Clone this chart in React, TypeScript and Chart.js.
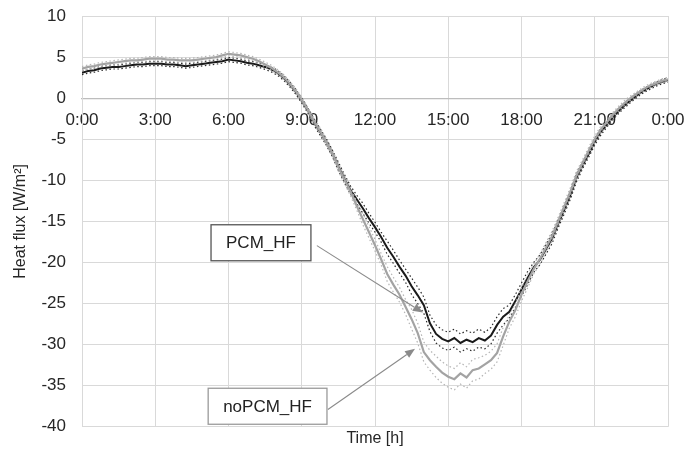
import React, { useEffect, useRef } from 'react';
import { Chart, registerables } from 'chart.js';

Chart.register(...registerables);

// sampling step of the series, in hours
const STEP_HOURS = 0.25;

// Heat flux with PCM [W/m²], every 15 min from 0:00 to 24:00
const pcmHF = [
  3.1, 3.3, 3.4, 3.6,
  3.7, 3.8, 3.8, 3.9,
  4.0, 4.1, 4.1, 4.2,
  4.2, 4.2, 4.1, 4.1,
  4.0, 3.9, 4.0, 4.1,
  4.2, 4.3, 4.4, 4.5,
  4.7, 4.6, 4.5, 4.3,
  4.2, 4.0, 3.8, 3.5,
  3.1, 2.5, 1.7, 0.8,
  -0.3, -1.5, -2.9, -4.1,
  -5.3, -6.7, -8.3, -9.8,
  -11.2, -12.3, -13.4, -14.6,
  -15.7, -16.9, -18.2, -19.3,
  -20.5, -21.6, -22.9, -24.0,
  -25.2, -27.4, -28.7, -29.3,
  -29.6, -29.2, -29.8, -29.4,
  -29.7, -29.2, -29.5, -28.9,
  -27.6, -26.6, -26.0, -24.7,
  -23.3, -21.9, -20.6, -19.7,
  -18.4, -17.1, -15.3, -13.6,
  -11.8, -9.7, -8.2, -6.8,
  -5.3, -4.1, -3.2, -2.3,
  -1.5, -0.8, -0.2, 0.4,
  0.9, 1.3, 1.7, 2.0,
  2.2,
];

// Heat flux without PCM [W/m²], every 15 min from 0:00 to 24:00
const noPcmHF = [
  3.6, 3.8, 3.9, 4.1,
  4.2, 4.3, 4.4, 4.5,
  4.6, 4.6, 4.7, 4.8,
  4.8, 4.8, 4.7, 4.7,
  4.6, 4.6, 4.6, 4.7,
  4.8, 4.9, 5.0, 5.2,
  5.4, 5.3, 5.2, 5.0,
  4.8, 4.5, 4.1, 3.7,
  3.2, 2.6, 1.8, 0.9,
  -0.2, -1.4, -2.8, -4.0,
  -5.3, -6.7, -8.4, -9.9,
  -11.4, -13.1, -14.7, -16.3,
  -17.9, -19.6, -21.4, -22.7,
  -23.9, -25.4, -26.9, -28.6,
  -30.9, -31.9, -32.7, -33.4,
  -33.9, -34.2, -33.5, -34.0,
  -33.1, -32.9, -32.4, -31.9,
  -31.0, -29.0, -27.2, -25.8,
  -23.9, -22.3, -20.8, -19.6,
  -18.2, -16.8, -15.0, -13.2,
  -11.4, -9.4, -7.9, -6.4,
  -5.0, -3.8, -2.9, -2.0,
  -1.2, -0.5, 0.1, 0.6,
  1.1, 1.5, 1.8, 2.1,
  2.3,
];

// half-width of the measurement uncertainty band, per hour (0..24)
const pcmUncHourly = [0.25, 0.25, 0.25, 0.25, 0.25, 0.25, 0.25, 0.25, 0.3, 0.3, 0.4, 0.5, 0.6, 0.8, 1.0, 1.1, 1.1, 1.0, 0.8, 0.6, 0.5, 0.4, 0.3, 0.25, 0.25];
const noPcmUncHourly = [0.25, 0.25, 0.25, 0.25, 0.25, 0.25, 0.25, 0.25, 0.3, 0.3, 0.4, 0.5, 0.7, 0.9, 1.2, 1.3, 1.3, 1.1, 0.8, 0.6, 0.5, 0.4, 0.3, 0.25, 0.25];

const yTickValues = [10, 5, 0, -5, -10, -15, -20, -25, -30, -35, -40];
const xTickHours = [0, 3, 6, 9, 12, 15, 18, 21, 24];

// callouts, anchored in data coordinates (hours, W/m²)
const callouts = [
  { text: 'PCM_HF', cx: 7.33, cy: -17.6, fx: 9.62, fy: -17.95, tx: 13.96, ty: -26.1, border: '#555555' },
  { text: 'noPCM_HF', cx: 7.6, cy: -37.5, fx: 10.07, fy: -37.9, tx: 13.64, ty: -30.5, border: '#9a9a9a' },
];

const FONT_FAMILY = '"Liberation Sans", Arial, Helvetica, sans-serif';

const toPoints = (arr: number[]) => arr.map((v, i) => ({ x: i * STEP_HOURS, y: v }));
const band = (arr: number[], unc: number[], sign: number) =>
  arr.map((v, i) => ({ x: i * STEP_HOURS, y: v + sign * unc[Math.round(i * STEP_HOURS)] }));

const calloutPlugin = {
  id: 'callouts',
  afterDatasetsDraw(chart: any) {
    const { ctx, scales } = chart;
    const xs = scales.x;
    const ys = scales.y;
    ctx.save();
    ctx.font = `17px ${FONT_FAMILY}`;
    for (const c of callouts) {
      const cx = xs.getPixelForValue(c.cx);
      const cy = ys.getPixelForValue(c.cy);
      const tw = ctx.measureText(c.text).width;
      const w = tw + 30;
      const h = 36;
      ctx.fillStyle = '#ffffff';
      ctx.fillRect(cx - w / 2, cy - h / 2, w, h);
      ctx.strokeStyle = c.border;
      ctx.lineWidth = 1.3;
      ctx.strokeRect(cx - w / 2, cy - h / 2, w, h);
      ctx.fillStyle = '#222222';
      ctx.textAlign = 'center';
      ctx.textBaseline = 'middle';
      ctx.fillText(c.text, cx, cy + 1);

      const fx = xs.getPixelForValue(c.fx);
      const fy = ys.getPixelForValue(c.fy);
      const tx = xs.getPixelForValue(c.tx);
      const ty = ys.getPixelForValue(c.ty);
      const ang = Math.atan2(ty - fy, tx - fx);
      const headLen = 10;
      const headHalf = 4;
      ctx.strokeStyle = '#8a8a8a';
      ctx.lineWidth = 1.1;
      ctx.beginPath();
      ctx.moveTo(fx, fy);
      ctx.lineTo(tx - headLen * Math.cos(ang), ty - headLen * Math.sin(ang));
      ctx.stroke();
      ctx.fillStyle = '#8a8a8a';
      ctx.beginPath();
      ctx.moveTo(tx, ty);
      ctx.lineTo(tx - headLen * Math.cos(ang) + headHalf * Math.sin(ang), ty - headLen * Math.sin(ang) - headHalf * Math.cos(ang));
      ctx.lineTo(tx - headLen * Math.cos(ang) - headHalf * Math.sin(ang), ty - headLen * Math.sin(ang) + headHalf * Math.cos(ang));
      ctx.closePath();
      ctx.fill();
    }
    ctx.restore();
  },
};

export default function App() {
  const canvasRef = useRef<HTMLCanvasElement | null>(null);

  useEffect(() => {
    if (!canvasRef.current) return;
    const gridColor = '#d9d9d9';
    const tickColor = '#262626';
    const chart = new Chart(canvasRef.current, {
      type: 'line',
      data: {
        datasets: [
          {
            label: 'noPCM_HF upper',
            data: band(noPcmHF, noPcmUncHourly, 1),
            borderColor: '#b4b4b4',
            borderWidth: 1.2,
            borderDash: [1.5, 2.5],
            pointRadius: 0,
            fill: false,
          },
          {
            label: 'noPCM_HF lower',
            data: band(noPcmHF, noPcmUncHourly, -1),
            borderColor: '#b4b4b4',
            borderWidth: 1.2,
            borderDash: [1.5, 2.5],
            pointRadius: 0,
            fill: false,
          },
          {
            label: 'noPCM_HF',
            data: toPoints(noPcmHF),
            borderColor: '#a3a3a3',
            borderWidth: 2.2,
            pointRadius: 0,
            fill: false,
          },
          {
            label: 'PCM_HF upper',
            data: band(pcmHF, pcmUncHourly, 1),
            borderColor: '#2a2a2a',
            borderWidth: 1.2,
            borderDash: [1.5, 2.5],
            pointRadius: 0,
            fill: false,
          },
          {
            label: 'PCM_HF lower',
            data: band(pcmHF, pcmUncHourly, -1),
            borderColor: '#2a2a2a',
            borderWidth: 1.2,
            borderDash: [1.5, 2.5],
            pointRadius: 0,
            fill: false,
          },
          {
            label: 'PCM_HF',
            data: toPoints(pcmHF),
            borderColor: '#1a1a1a',
            borderWidth: 2,
            pointRadius: 0,
            fill: false,
          },
        ],
      },
      options: {
        responsive: false,
        animation: false,
        devicePixelRatio: 1,
        layout: { padding: { top: 16, right: 17, bottom: 0, left: 8 } },
        plugins: {
          legend: { display: false },
          tooltip: { enabled: false },
        },
        scales: {
          x: {
            type: 'linear',
            position: { y: 0 } as any,
            min: 0,
            max: 24,
            afterBuildTicks: (scale: any) => {
              scale.ticks = xTickHours.map((v) => ({ value: v }));
            },
            ticks: {
              color: tickColor,
              font: { size: 17, family: FONT_FAMILY },
              padding: 0,
              maxRotation: 0,
              autoSkip: false,
              callback: (v: any) => `${Number(v) % 24}:00`,
            },
            grid: { color: gridColor, lineWidth: 1, drawTicks: true, tickLength: 12, tickColor: 'rgba(0,0,0,0)' },
            border: { display: true, color: '#bdbdbd', width: 1.3 },
          },
          xTitle: {
            type: 'linear',
            position: 'bottom',
            min: 0,
            max: 24,
            ticks: { display: false },
            grid: { display: false, drawTicks: false },
            border: { display: false },
            title: {
              display: true,
              text: 'Time [h]',
              color: tickColor,
              font: { size: 16, family: FONT_FAMILY },
              padding: { top: 2, bottom: 2 },
            },
          },
          y: {
            type: 'linear',
            position: 'left',
            min: -40,
            max: 10,
            afterBuildTicks: (scale: any) => {
              scale.ticks = yTickValues.map((v) => ({ value: v }));
            },
            afterFit: (scale: any) => {
              scale.width = 74;
            },
            ticks: {
              color: tickColor,
              font: { size: 17, family: FONT_FAMILY },
              padding: 0,
            },
            grid: { color: gridColor, lineWidth: 1, drawTicks: true, tickLength: 16, tickColor: 'rgba(0,0,0,0)' },
            border: { display: true, color: gridColor },
            title: {
              display: true,
              text: 'Heat flux [W/m²]',
              color: tickColor,
              font: { size: 16, family: FONT_FAMILY },
              padding: { top: 2.5, bottom: 0 },
            },
          },
        },
      },
      plugins: [calloutPlugin],
    });
    return () => chart.destroy();
  }, []);

  return (
    <div style={{ position: 'absolute', left: 0, top: 0, width: 685, height: 450, background: '#ffffff' }}>
      <canvas ref={canvasRef} width={685} height={450} style={{ display: 'block' }} />
    </div>
  );
}
